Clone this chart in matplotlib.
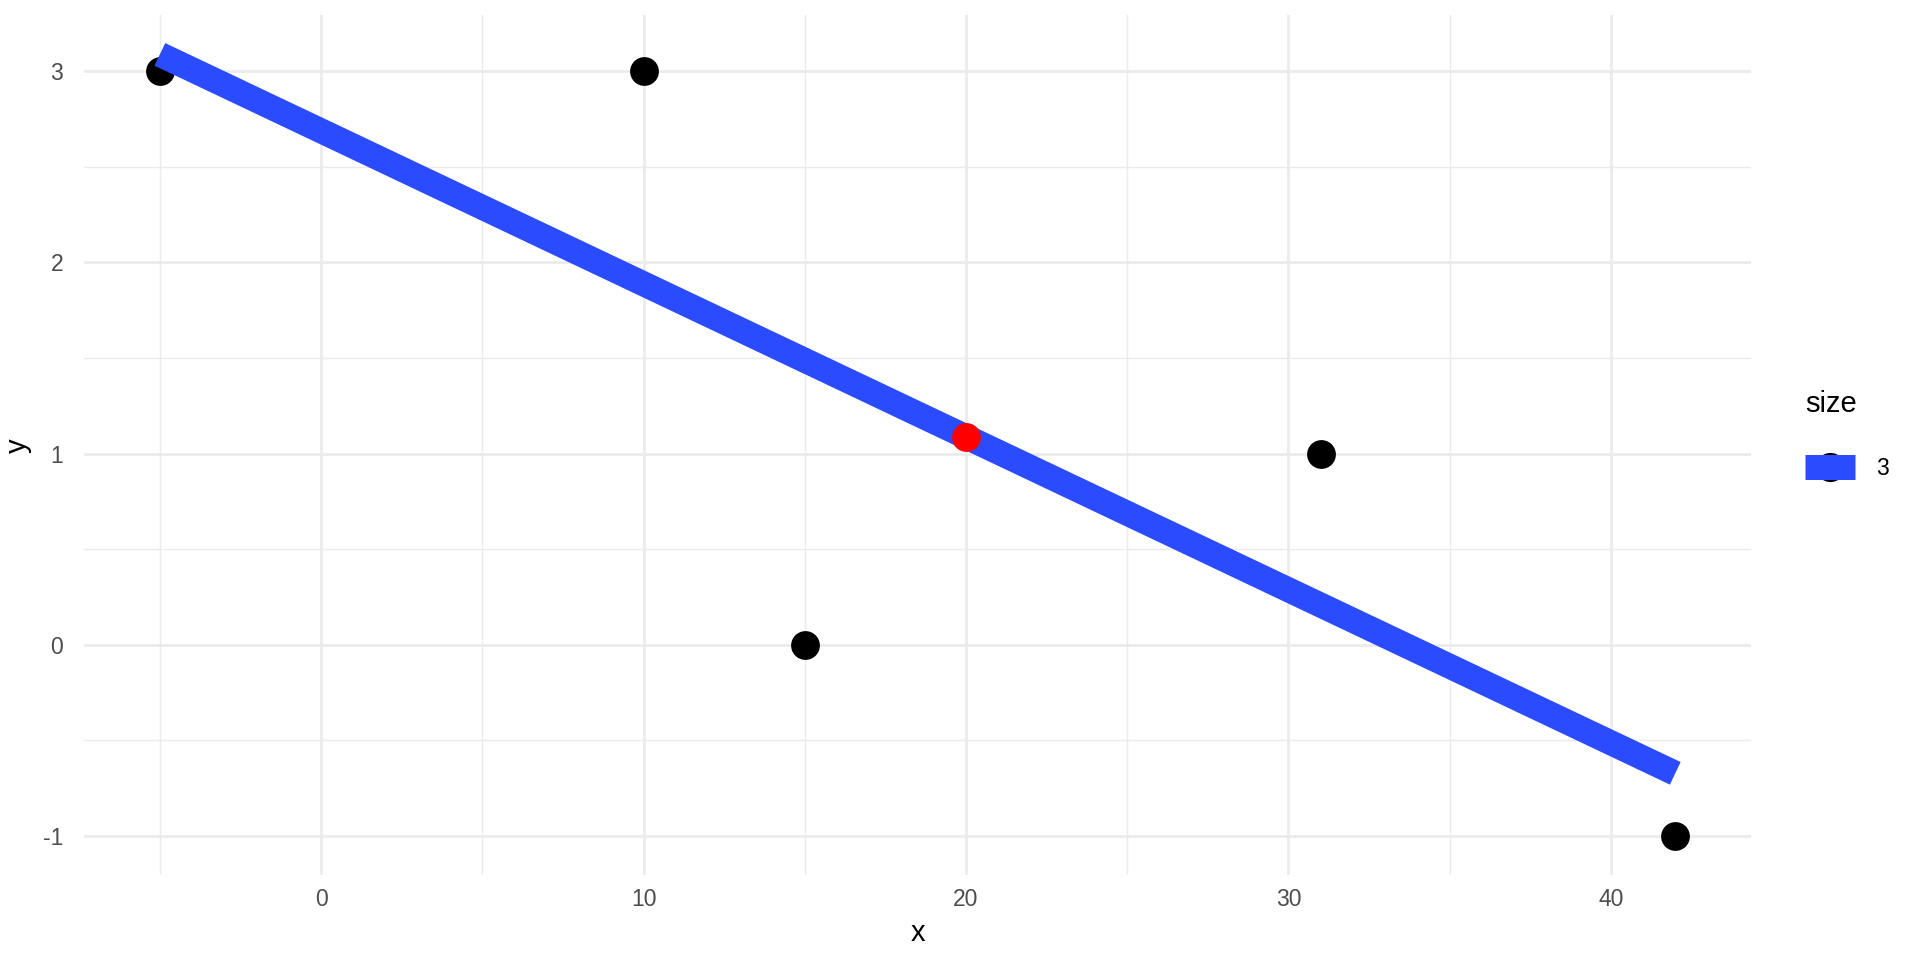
import matplotlib.pyplot as plt
from matplotlib.lines import Line2D
from matplotlib.legend_handler import HandlerTuple

plt.rcParams['font.family'] = ['Liberation Sans', 'DejaVu Sans']

# observed points
pts_x = [-5, 10, 15, 31, 42]
pts_y = [3, 3, 0, 1, -1]

# fitted line ends
line_x = [-5, 42]
line_y = [3.088, -0.672]

# highlighted point
red_x = [20]
red_y = [1.088]

x_ticks = [0, 10, 20, 30, 40]
x_minor = [-5, 5, 15, 25, 35]
y_ticks = [-1, 0, 1, 2, 3]
y_minor = [-0.5, 0.5, 1.5, 2.5]

blue = '#2B4BFF'
grid = '#EBEBEB'

fig = plt.figure(figsize=(19.2, 9.6), dpi=100)
ax = fig.add_axes([0.0438, 0.0885, 0.8682, 0.8955])

ax.scatter(pts_x, pts_y, s=430, color='black', zorder=3, linewidths=0)
ax.plot(line_x, line_y, color=blue, lw=18, solid_capstyle='butt', zorder=4)
ax.scatter(red_x, red_y, s=430, color='red', zorder=5, linewidths=0)

ax.set_xlim(-7.35, 44.35)
ax.set_ylim(-1.204, 3.292)

ax.set_xticks(x_ticks)
ax.set_xticks(x_minor, minor=True)
ax.set_yticks(y_ticks)
ax.set_yticks(y_minor, minor=True)
ax.grid(which='major', color=grid, lw=2.0, zorder=0)
ax.grid(which='minor', color=grid, lw=1.0, zorder=0)
ax.set_axisbelow(True)
for s in ax.spines.values():
    s.set_visible(False)
ax.tick_params(which='both', length=0, labelsize=16.5, labelcolor='#4D4D4D')
ax.tick_params(axis='x', pad=9)
ax.tick_params(axis='y', pad=15)
ax.set_yticklabels(['-1', '0', '1', '2', '3'])

ax.set_xlabel('x', fontsize=21, labelpad=6)
ax.set_ylabel('y', fontsize=21, labelpad=8)

h_pt = Line2D([], [], marker='o', ls='', color='black', markersize=21, markeredgewidth=0)
h_ln = Line2D([], [], color=blue, lw=18, solid_capstyle='butt')
leg = fig.legend([(h_pt, h_ln)], ['3'], handler_map={tuple: HandlerTuple(ndivide=1)},
                 title='size', loc='center left', bbox_to_anchor=(0.934, 0.547),
                 frameon=False, fontsize=16.5, title_fontsize=21, handlelength=2.2,
                 handletextpad=0.9, borderpad=0, alignment='left', labelspacing=1.7)

fig.savefig('out.png', dpi=100)
